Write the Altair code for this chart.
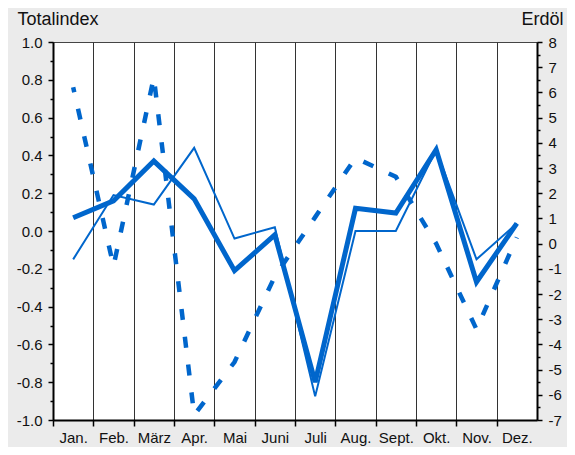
import altair as alt
import pandas as pd

months = ["Jan.", "Feb.", "März", "Apr.", "Mai", "Juni", "Juli", "Aug.", "Sept.", "Okt.", "Nov.", "Dez."]
totalindex = [0.07, 0.16, 0.37, 0.17, -0.21, -0.02, -0.80, 0.12, 0.095, 0.43, -0.27, 0.04]
kernindex = [-0.15, 0.19, 0.14, 0.44, -0.04, 0.02, -0.875, 0.0, 0.0, 0.43, -0.15, 0.04]
erdoel = [6.2, -0.9, 6.6, -6.8, -4.7, -1.3, 1.05, 3.4, 2.65, 0.0, -3.4, 0.25]

left_ticks = [round(-1.0 + 0.1 * i, 1) for i in range(21)]
right_ticks = [-7 + 0.5 * i for i in range(31)]

df = pd.DataFrame({"Monat": months, "Totalindex": totalindex, "Kern": kernindex, "Erdöl": erdoel})

W, H = 484, 378
step = W / 12
BLUE = "#0066cc"
FONT = "Liberation Sans"

xenc = alt.X(
    "Monat:O",
    sort=months,
    scale=alt.Scale(type="point", padding=0.5),
    axis=alt.Axis(
        title=None, grid=True, gridColor="#333333", gridWidth=1,
        tickOffset=-step / 2, labelOffset=step / 2,
        tickSize=6, tickColor="#000", tickWidth=1.5,
        domainColor="#000", domainWidth=2,
        labelAngle=0, labelPadding=4, labelFontSize=15, labelColor="#111",
    ),
)

major_l = "abs(datum.value*5 - round(datum.value*5)) < 0.01"
left_axis = alt.Axis(
    title="Totalindex", titleAngle=0, titleAlign="left", titleBaseline="alphabetic",
    titleX=-36, titleY=-18, titleFontSize=18, titleFontWeight="normal", titleColor="#111",
    values=left_ticks, grid=False,
    labelExpr="abs(datum.value*5 - round(datum.value*5)) < 0.01 ? replace(format(datum.value, '.1f'), '\u2212', '-') : ''",
    tickSize={"condition": {"test": major_l, "value": 5}, "value": 3},
    tickColor="#000", tickWidth=1.5, domainColor="#000", domainWidth=2,
    labelPadding=6, labelFontSize=15, labelColor="#111",
)

major_r = "abs(datum.value - round(datum.value)) < 0.01"
right_axis = alt.Axis(
    title="Erdöl", orient="right", titleAngle=0, titleAlign="right", titleBaseline="alphabetic",
    titleX=26, titleY=-18, titleFontSize=18, titleFontWeight="normal", titleColor="#111",
    values=right_ticks, grid=False,
    labelExpr="abs(datum.value - round(datum.value)) < 0.01 ? replace(format(datum.value, 'd'), '\u2212', '-') : ''",
    tickSize={"condition": {"test": major_r, "value": 5}, "value": 3},
    tickColor="#000", tickWidth=1.5, domainColor="#000", domainWidth=2,
    labelPadding=6, labelFontSize=15, labelColor="#111",
)

base = alt.Chart(df)
lscale = alt.Scale(domain=[-1, 1], nice=False)

oil = base.mark_line(color=BLUE, strokeWidth=4.5, strokeDash=[11, 17], strokeDashOffset=6).encode(
    x=xenc,
    y=alt.Y("Erdöl:Q", scale=alt.Scale(domain=[-7, 8], nice=False, zero=False), axis=right_axis),
)

thin = base.mark_line(color=BLUE, strokeWidth=2).encode(
    x=xenc,
    y=alt.Y("Kern:Q", scale=lscale, axis=left_axis),
)
thick = base.mark_line(color=BLUE, strokeWidth=5).encode(
    x=xenc,
    y=alt.Y("Totalindex:Q", scale=lscale, axis=left_axis),
)

left = alt.layer(thin, thick)

chart = alt.layer(left, oil).resolve_scale(y="independent").properties(
    width=W, height=H,
    padding={"left": 45, "top": 34, "right": 30, "bottom": 27},
    autosize=alt.AutoSizeParams(type="none"),
    background="#ebebeb",
).configure(font=FONT).configure_view(fill="white", stroke="#444444", strokeWidth=1)

chart.save("out.html", embed_options={"renderer": "svg", "actions": False})
